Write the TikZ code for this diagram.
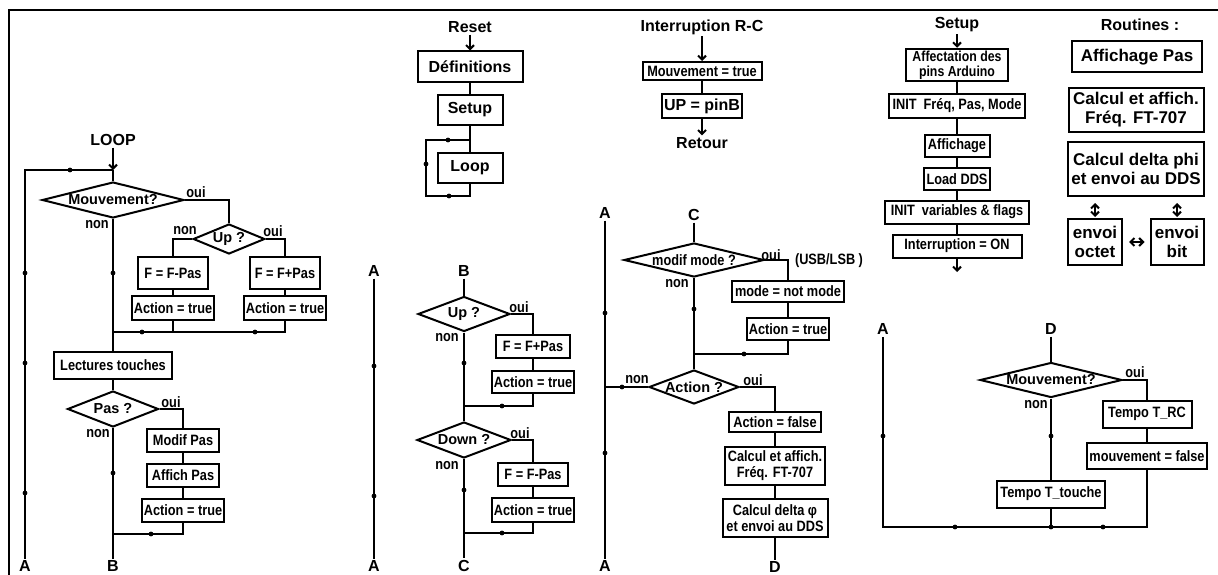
\documentclass[tikz,border=0pt]{standalone}
\usepackage{fontspec}
\setmainfont{Liberation Sans}
\newfontfamily\etroit[FakeStretch=0.85]{Liberation Sans}
\usetikzlibrary{shapes.geometric,arrows.meta}
\newcommand\petit{\etroit\bfseries\fontsize{15}{16}\selectfont}
\newcommand\moyen{\bfseries\fontsize{14.5}{16}\selectfont}
\newcommand\titre{\bfseries\fontsize{16}{19}\selectfont}
\newcommand\grand{\bfseries\fontsize{17}{19}\selectfont}
\tikzset{
  boite/.style 2 args={draw, fill=white, font=\petit, align=center, inner sep=2pt, minimum width=#1pt, minimum height=#2pt},
  losange/.style 2 args={draw, diamond, fill=white, font=\moyen, aspect=3, inner sep=0pt, minimum width=#1pt, minimum height=#2pt},
  lab/.style={font=\petit, inner sep=1pt},
  lettre/.style={font=\titre, inner sep=1pt},
  >={Straight Barb[length=4pt,width=8pt]}
}

\begin{document}
\begin{tikzpicture}[x=1pt,y=-1pt,line width=2pt]
\useasboundingbox (0,0) rectangle (1218,575);
\draw[line width=2.8pt] (9,575) -- (9,10) -- (1218,10);

% LOOP
\node[lettre] (loop) at (113,140) {LOOP};
\coordinate (j0) at (113,170);
\node[losange={142}{36}, aspect=4] (mvt1) at (113,200) {Mouvement?};
\node[losange={63}{30}] (up1) at (229,239) {Up ?};
\node[boite={70}{32}] (fm1) at (173,273) {F = F-Pas};
\node[boite={80}{24}] (am1) at (173,308) {Action = true};
\node[boite={70}{32}] (fp1) at (285,273) {F = F+Pas};
\node[boite={80}{24}] (ap1) at (285,308) {Action = true};
\coordinate (j1) at (113,332);
\node[boite={118}{27}] (lect) at (113,365) {Lectures touches};
\node[losange={91}{36}] (pas) at (113,409) {Pas ?};
\node[boite={72}{23}] (modif) at (183,440) {Modif Pas};
\node[boite={72}{23}] (affich) at (183,475) {Affich Pas};
\node[boite={80}{23}] (act1) at (183,510) {Action = true};
\coordinate (j2) at (113,534);
\node[lettre] (B1) at (113,566) {B};
\node[lettre] (A1) at (25,566) {A};

\draw[->] (loop) -- (j0);
\draw (j0) -- (mvt1.north);
\draw (A1.north) |- (j0);
\draw (mvt1.east) -| (up1.north);
\draw (up1.west) -| (fm1.north);
\draw (up1.east) -| (fp1.north);
\draw (fm1) -- (am1);
\draw (fp1) -- (ap1);
\draw (am1.south) |- (j1);
\draw (ap1.south) |- (j1);
\draw (mvt1.south) -- (lect.north);
\draw (lect) -- (pas);
\draw (pas.east) -| (modif.north);
\draw (modif) -- (affich);
\draw (affich) -- (act1);
\draw (act1.south) |- (j2);
\draw (pas.south) -- (B1.north);
\node[lab] at (196,192) {oui};
\node[lab] at (97,225) {non};
\node[lab] at (185,231) {non};
\node[lab] at (273,231) {oui};
\node[lab] at (171,402) {oui};
\node[lab] at (98,434) {non};

% Reset
\node[lettre] (reset) at (470,27) {Reset};
\node[boite={105}{31}, font=\titre] (defs) at (470,67) {Définitions};
\node[boite={65}{30}, font=\titre] (setupb) at (470,110) {Setup};
\node[boite={65}{30}, font=\titre] (loopb) at (470,168) {Loop};
\coordinate (j3) at (470,140);
\coordinate (r1) at (426,196);
\draw[->] (reset) -- (defs);
\draw (defs) -- (setupb);
\draw (setupb) -- (loopb);
\draw (loopb.south) |- (r1) |- (j3);

% Interruption
\node[lettre] (inter) at (702,27) {Interruption R-C};
\node[boite={119}{18}] (mvtt) at (702,71) {Mouvement = true};
\node[boite={78}{24}, font=\titre] (upb) at (702,106) {UP = pinB};
\node[lettre] (retour) at (702,143) {Retour};
\draw[->] (inter) -- (mvtt);
\draw (mvtt) -- (upb);
\draw[->] (upb) -- (retour);

% B -> C
\node[lettre] (A2h) at (374,271) {A};
\node[lettre] (A2b) at (374,566) {A};
\node[lettre] (B2) at (464,271) {B};
\node[losange={92}{35}] (up2) at (464,314) {Up ?};
\node[boite={74}{23}] (fp2) at (533,346) {F = F+Pas};
\node[boite={82}{22}] (ap2) at (533,382) {Action = true};
\coordinate (j4) at (464,406);
\node[losange={94}{36}] (down2) at (464,440) {Down ?};
\node[boite={70}{23}] (fm2) at (533,474) {F = F-Pas};
\node[boite={81}{24}] (am2) at (533,510) {Action = true};
\coordinate (j5) at (464,533);
\node[lettre] (C2) at (464,566) {C};
\draw (A2h) -- (A2b);
\draw (B2) -- (up2);
\draw (up2.east) -| (fp2.north);
\draw (fp2) -- (ap2);
\draw (ap2.south) |- (j4);
\draw (up2.south) -- (down2.north);
\draw (down2.east) -| (fm2.north);
\draw (fm2) -- (am2);
\draw (am2.south) |- (j5);
\draw (down2.south) -- (C2);
\node[lab] at (519,307) {oui};
\node[lab] at (447,338) {non};
\node[lab] at (520,433) {oui};
\node[lab] at (447,466) {non};

% C -> D
\node[lettre] (A3h) at (605,213) {A};
\node[lettre] (A3b) at (605,566) {A};
\node[lettre] (C3) at (694,215) {C};
\node[losange={140}{34}, aspect=4, font=\petit] (modm) at (694,260) {modif mode ?};
\node[boite={112}{21}] (notm) at (788,291) {mode = not mode};
\node[boite={82}{22}] (act3) at (788,329) {Action = true};
\coordinate (j6) at (694,354);
\node[losange={86}{34}] (actq) at (694,387) {Action ?};
\coordinate (j7) at (605,387);
\node[boite={92}{20}] (actf) at (775,422) {Action = false};
\node[boite={100}{38}] (calc) at (775,466) {Calcul et affich.\\Fréq. FT-707};
\node[boite={105}{38}] (delta) at (775,518) {Calcul delta φ\\et envoi au DDS};
\node[lettre] (D3) at (775,567) {D};
\draw (A3h) -- (A3b);
\draw (C3) -- (modm);
\draw (modm.east) -| (notm.north);
\draw (notm) -- (act3);
\draw (act3.south) |- (j6);
\draw (modm.south) -- (actq.north);
\draw (actq.west) -- (j7);
\draw (actq.east) -| (actf.north);
\draw (actf) -- (calc);
\draw (calc) -- (delta);
\draw (delta) -- (D3);
\node[lab] at (771,255) {oui};
\node[lab, anchor=west] at (793,261) {(USB/LSB )};
\node[lab] at (677,284) {non};
\node[lab] at (637,380) {non};
\node[lab] at (753,380) {oui};

% Setup
\node[lettre] (setupt) at (957,25) {Setup};
\node[boite={102}{30}, font=\etroit\bfseries\fontsize{14.5}{15}\selectfont] (affp) at (957,65) {Affectation des\\pins Arduino};
\node[boite={136}{24}] (initf) at (957,106) {INIT~ Fréq, Pas, Mode};
\node[boite={65}{22}] (affi) at (957,146) {Affichage};
\node[boite={66}{22}] (load) at (957,179) {Load DDS};
\node[boite={144}{23}] (initv) at (957,212) {INIT~ variables \& flags};
\node[boite={129}{23}] (inton) at (957,246) {Interruption = ON};
\coordinate (fin) at (957,272);
\draw[->] (setupt) -- (affp);
\draw (affp) -- (initf);
\draw (initf) -- (affi);
\draw (affi) -- (load);
\draw (load) -- (initv);
\draw (initv) -- (inton);
\draw[->] (inton) -- (fin);

% Routines
\node[lettre] (rout) at (1140,25) {Routines :};
\node[boite={130}{31}, font=\grand] (affpas) at (1137,57) {Affichage Pas};
\node[boite={135}{44}, font=\grand] (calc2) at (1136,110) {Calcul et affich.\\Fréq. FT-707};
\node[boite={136}{54}, font=\grand] (delta2) at (1136,169) {Calcul delta phi\\et envoi au DDS};
\node[boite={54}{46}, font=\grand] (envo) at (1095,242) {envoi\\octet};
\node[boite={53}{46}, font=\grand] (envb) at (1177,242) {envoi\\bit};
\draw[<->, shorten <=6pt, shorten >=1pt] (delta2.south -| envo.north) -- (envo.north);
\draw[<->, shorten <=6pt, shorten >=1pt] (delta2.south -| envb.north) -- (envb.north);
\draw[<->, shorten <=6pt, shorten >=5pt] (envo) -- (envb);

% D -> A
\node[lettre] (A4) at (883,329) {A};
\node[lettre] (D4) at (1051,329) {D};
\node[losange={142}{35}, aspect=4] (mvt4) at (1051,380) {Mouvement?};
\node[boite={89}{27}] (trc) at (1147,414) {Tempo T\_RC};
\node[boite={120}{26}] (mvf) at (1147,456) {mouvement = false};
\node[boite={108}{27}] (ttch) at (1051,494) {Tempo T\_touche};
\coordinate (j8) at (1051,527);
\coordinate (c8) at (883,527);
\draw (D4) -- (mvt4);
\draw (mvt4.east) -| (trc.north);
\draw (trc) -- (mvf);
\draw (mvt4.south) -- (ttch.north);
\draw (ttch.south) -- (j8);
\draw (mvf.south) |- (c8) -- (A4);
\node[lab] at (1135,372) {oui};
\node[lab] at (1036,405) {non};

% points
\foreach \p in {(70,170),(25,273),(25,363),(25,493),(113,273),(142,332),(255,332),(113,473),(151,534),
  (449,196),(426,164),(448,140),(374,366),(374,496),(464,363),(502,406),(464,490),(502,533),
  (605,313),(605,453),(622,387),(694,309),(744,354),(883,436),(1051,436),(955,527),(1103,527),(1051,527)}
  \fill \p circle (2.4pt);
\end{tikzpicture}
\end{document}
